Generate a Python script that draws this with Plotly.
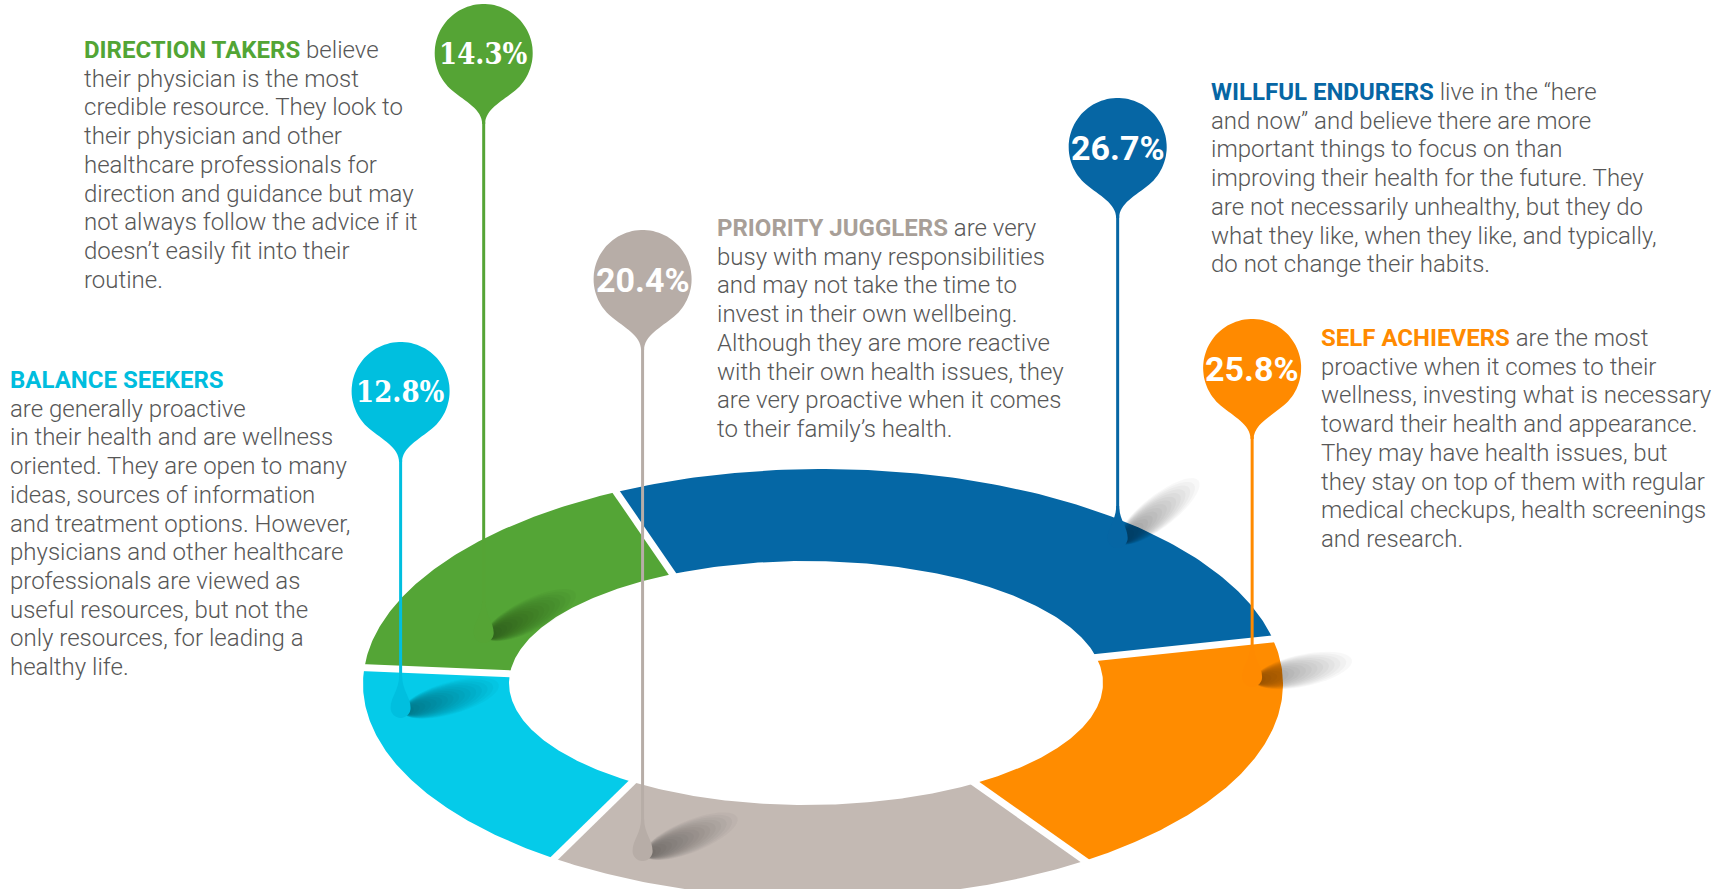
import numpy as np
import plotly.graph_objects as go

# --- data -------------------------------------------------------------
segments = ["WILLFUL ENDURERS", "SELF ACHIEVERS", "PRIORITY JUGGLERS",
            "BALANCE SEEKERS", "DIRECTION TAKERS"]
shares = [26.7, 25.8, 20.4, 12.8, 14.3]

descriptions = [
    [" live in the “here",
     "and now” and believe there are more",
     "important things to focus on than",
     "improving their health for the future. They",
     "are not necessarily unhealthy, but they do",
     "what they like, when they like, and typically,",
     "do not change their habits."],
    [" are the most",
     "proactive when it comes to their",
     "wellness, investing what is necessary",
     "toward their health and appearance.",
     "They may have health issues, but",
     "they stay on top of them with regular",
     "medical checkups, health screenings",
     "and research."],
    [" are very",
     "busy with many responsibilities",
     "and may not take the time to",
     "invest in their own wellbeing.",
     "Although they are more reactive",
     "with their own health issues, they",
     "are very proactive when it comes",
     "to their family’s health."],
    ["",
     "are generally proactive",
     "in their health and are wellness",
     "oriented. They are open to many",
     "ideas, sources of information",
     "and treatment options. However,",
     "physicians and other healthcare",
     "professionals are viewed as",
     "useful resources, but not the",
     "only resources, for leading a",
     "healthy life."],
    [" believe",
     "their physician is the most",
     "credible resource. They look to",
     "their physician and other",
     "healthcare professionals for",
     "direction and guidance but may",
     "not always follow the advice if it",
     "doesn’t easily fit into their",
     "routine."],
]

# --- style ------------------------------------------------------------
ring_colors = ["#0567a5", "#ff8c00", "#c3b9b3", "#05cbe9", "#54a536"]
pin_colors = ["#0666a4", "#ff8a00", "#b7ada7", "#00bfdf", "#55a435"]
head_colors = ["#0666a4", "#ff8a00", "#a89f98", "#00bdde", "#52a535"]
label_fonts = ["Roboto", "Roboto", "Roboto", "DejaVu Serif Condensed", "DejaVu Serif Condensed"]
label_sizes = [34, 34, 34, 29, 29]

text_x = [1210, 1320, 716, 9, 83]
text_y = [92, 338, 228, 380, 50]          # centre of first line
line_gap = 28.7
balloon_y = [147, 368, 279, 391, 53]
pin_frac = [0.669, 0.150, 0.853, 0.803, 0.257]  # position along the slice
pin_depth = [0.84, 0.83, 0.68, 0.765, 0.31]
shadow_ang = [38, 12, 22, 16, 26]

W, H = 1729, 889
OUTER = (823, 684, 460, 215)
INNER = (806, 683, 297, 122)
R = 49


def screen_angle(u):
    # clockwise share angle -> angle on the tilted ring (perspective warp)
    u = np.radians(u)
    return (122.55 - np.degrees(u) - 6.86 * np.cos(u) - 13.2 * np.sin(u)
            + 1.03 * np.cos(2 * u) + 4.33 * np.sin(2 * u))


def ring_pt(t, f):
    c, s = np.cos(np.radians(t)), np.sin(np.radians(t))
    xi, yi = INNER[0] + INNER[2] * c, INNER[1] - INNER[3] * s
    xo, yo = OUTER[0] + OUTER[2] * c, OUTER[1] - OUTER[3] * s
    return xi + f * (xo - xi), yi + f * (yo - yi)


fig = go.Figure()

cum = np.concatenate([[0], np.cumsum(shares)]) / sum(shares) * 360

for i in range(len(shares)):
    ts = screen_angle(np.linspace(cum[i], cum[i + 1], 120))
    ox, oy = ring_pt(ts, 1.0)
    ix, iy = ring_pt(ts[::-1], 0.0)
    fig.add_trace(go.Scatter(x=np.concatenate([ox, ix]), y=np.concatenate([oy, iy]),
                             fill="toself", fillcolor=ring_colors[i], mode="lines",
                             line=dict(width=0), hoverinfo="skip", name=segments[i]))

for u in cum[:-1]:
    t = screen_angle(u)
    gx, gy = ring_pt(np.array([t, t]), np.array([-0.15, 1.15]))
    fig.add_trace(go.Scatter(x=gx, y=gy, mode="lines", line=dict(color="white", width=7),
                             hoverinfo="skip"))

shapes = []
annotations = []


def ellipse_path(cx, cy, a, b, rot):
    th = np.linspace(0, 2 * np.pi, 40)
    ex, ey = a * np.cos(th), b * np.sin(th)
    cr, sr = np.cos(np.radians(rot)), np.sin(np.radians(rot))
    px = cx + ex * cr - ey * sr
    py = cy - (ex * sr + ey * cr)
    return "M" + " L".join(f"{x:.1f},{y:.1f}" for x, y in zip(px, py)) + " Z"


for i in range(len(shares)):
    t0, t1 = screen_angle(cum[i]), screen_angle(cum[i + 1])
    t = t0 + (t1 - t0) * pin_frac[i]
    dx, dy = ring_pt(t, pin_depth[i])
    dx, dy = float(dx), float(dy)
    by = balloon_y[i]
    col = pin_colors[i]

    # soft shadow of the drop
    ang = shadow_ang[i]
    for k in range(16):
        L = 100 * (1 - k / 17)
        w = 16 * (1 - k / 20)
        cx = dx + 2 + L / 2 * np.cos(np.radians(ang))
        cy = dy + 4 - L / 2 * np.sin(np.radians(ang))
        shapes.append(dict(type="path", path=ellipse_path(cx, cy, L / 2, w, ang),
                           fillcolor="black", opacity=0.028, line=dict(width=0)))

    # stem
    shapes.append(dict(type="line", x0=dx, x1=dx, y0=by + 1.4 * R, y1=dy - 24,
                       line=dict(color=col, width=3)))

    # drop at the end of the stem
    r = 10
    arc = np.linspace(np.pi, 2 * np.pi, 24)
    arc_pts = " L".join(f"{dx + r * np.cos(a):.1f},{dy - r * np.sin(a):.1f}" for a in arc)
    drop = (f"M{dx - 1.5:.1f},{dy - 32:.1f} C{dx - 1.5:.1f},{dy - 18:.1f} {dx - r:.1f},{dy - 11:.1f} {dx - r:.1f},{dy:.1f}"
            f" L{arc_pts}"
            f" C{dx + r:.1f},{dy - 11:.1f} {dx + 1.5:.1f},{dy - 18:.1f} {dx + 1.5:.1f},{dy - 32:.1f} Z")
    shapes.append(dict(type="path", path=drop, fillcolor=col, line=dict(width=0)))

    # balloon
    phis = np.radians(np.linspace(40, 320, 80))
    bx = dx + R * np.sin(phis)
    byy = by + R * np.cos(phis)
    pts = " L".join(f"{x:.1f},{y:.1f}" for x, y in zip(bx, byy))
    lx, ly = bx[-1], byy[-1]
    rx, ry = bx[0], byy[0]
    k = 0.35 * R
    balloon = (f"M{pts}"
               f" C{lx + k * 0.766:.1f},{ly + k * 0.643:.1f} {dx - 1.5:.1f},{by + 1.15 * R:.1f} {dx - 1.5:.1f},{by + 1.45 * R:.1f}"
               f" L{dx + 1.5:.1f},{by + 1.45 * R:.1f}"
               f" C{dx + 1.5:.1f},{by + 1.15 * R:.1f} {rx - k * 0.766:.1f},{ry + k * 0.643:.1f} {rx:.1f},{ry:.1f} Z")
    shapes.append(dict(type="path", path=balloon, fillcolor=col, line=dict(width=0)))

    annotations.append(dict(x=dx, y=by + 1, text=f"<b>{shares[i]}%</b>", showarrow=False,
                            font=dict(family=label_fonts[i], size=label_sizes[i], color="white"),
                            xanchor="center", yanchor="middle"))

    lines = descriptions[i]
    first = (f"<span style='font-family:Roboto;font-weight:bold;color:{head_colors[i]}'>"
             f"{segments[i]}</span>{lines[0]}")
    for j, txt in enumerate([first] + lines[1:]):
        annotations.append(dict(x=text_x[i], y=text_y[i] + j * line_gap, text=txt, showarrow=False,
                                xanchor="left", yanchor="middle", align="left", borderpad=0,
                                font=dict(family="Roboto Light, Roboto", size=24, color="#575757",
                                          weight=300)))

fig.update_layout(
    width=W, height=H, margin=dict(l=0, r=0, t=0, b=0),
    paper_bgcolor="white", plot_bgcolor="white", showlegend=False,
    xaxis=dict(range=[0, W], visible=False, fixedrange=True),
    yaxis=dict(range=[H, 0], visible=False, fixedrange=True),
    shapes=shapes, annotations=annotations,
)

fig.write_html("out.html", config={"displayModeBar": False},
               post_script="document.body.style.margin='0';document.body.style.overflow='hidden';")
